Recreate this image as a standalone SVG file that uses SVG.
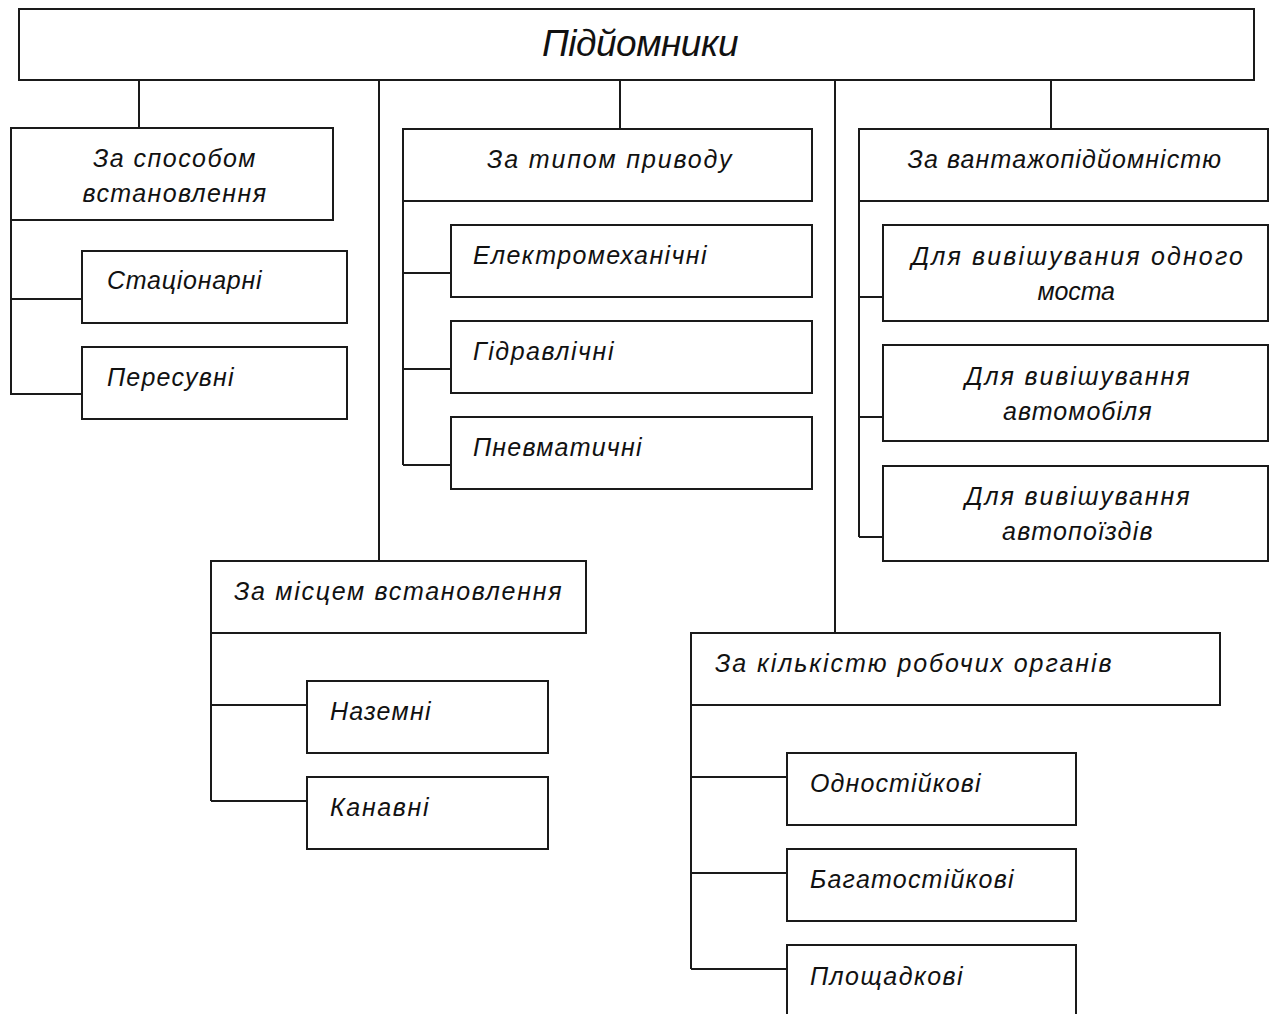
<svg xmlns="http://www.w3.org/2000/svg" width="1273" height="1014" viewBox="0 0 1273 1014">
<style>
.box{fill:#fff;stroke:#1a1a1a;stroke-width:2}
.ln{fill:none;stroke:#1a1a1a;stroke-width:2}
text{font-family:"Liberation Sans","DejaVu Sans",sans-serif;font-style:italic;font-size:25px;fill:#111;letter-spacing:1.5px}
.c{text-anchor:middle}
.t{font-size:37px}
</style>
<rect width="1273" height="1014" fill="#fff"/>
<g id="connectors">
<path class="ln" d="M139 80V128M379 80V561M620 80V129M835 80V633M1051 80V129"/>
<path class="ln" d="M11 220V394M11 299H82M10 394H82"/>
<path class="ln" d="M403 201V465M403 273H451M403 369H451M403 465H451"/>
<path class="ln" d="M859 201V537M859 297H883M859 417H883M859 537H883"/>
<path class="ln" d="M211 633V801M211 705H307M211 801H307"/>
<path class="ln" d="M691 705V969M691 777H787M691 873H787M691 969H787"/>
</g>
<g id="root"><rect class="box" x="19" y="9" width="1235" height="71"/><text class="c t" x="641" y="56" textLength="198">Підйомники</text></g>
<g id="sposib"><rect class="box" x="11" y="128" width="322" height="92"/><text class="c" x="175" y="167" textLength="164">За способом</text><text class="c" x="175" y="202" textLength="185">встановлення</text></g>
<g id="stac"><rect class="box" x="82" y="251" width="265" height="72"/><text x="107" y="289" textLength="156">Стаціонарні</text></g>
<g id="peres"><rect class="box" x="82" y="347" width="265" height="72"/><text x="107" y="386" textLength="128">Пересувні</text></g>
<g id="pryvid"><rect class="box" x="403" y="129" width="409" height="72"/><text class="c" x="610" y="168" textLength="246">За типом приводу</text></g>
<g id="elektro"><rect class="box" x="451" y="225" width="361" height="72"/><text x="473" y="264" textLength="235">Електромеханічні</text></g>
<g id="gidro"><rect class="box" x="451" y="321" width="361" height="72"/><text x="473" y="360" textLength="142">Гідравлічні</text></g>
<g id="pnevmo"><rect class="box" x="451" y="417" width="361" height="72"/><text x="473" y="456" textLength="170">Пневматичні</text></g>
<g id="vantazh"><rect class="box" x="859" y="129" width="409" height="72"/><text class="c" x="1065" y="168" textLength="315">За вантажопідйомністю</text></g>
<g id="mist"><rect class="box" x="883" y="225" width="385" height="96"/><text class="c" x="1078" y="265" textLength="333">Для вивішувания одного</text><text class="c" x="1077" y="300" textLength="79">моста</text></g>
<g id="avto"><rect class="box" x="883" y="345" width="385" height="96"/><text class="c" x="1078" y="385" textLength="226">Для вивішування</text><text class="c" x="1078" y="420" textLength="150">автомобіля</text></g>
<g id="poizd"><rect class="box" x="883" y="466" width="385" height="95"/><text class="c" x="1078" y="505" textLength="226">Для вивішування</text><text class="c" x="1078" y="540" textLength="152">автопоїздів</text></g>
<g id="misce"><rect class="box" x="211" y="561" width="375" height="72"/><text x="234" y="600" textLength="329">За місцем встановлення</text></g>
<g id="nazemni"><rect class="box" x="307" y="681" width="241" height="72"/><text x="330" y="720" textLength="102">Наземні</text></g>
<g id="kanavni"><rect class="box" x="307" y="777" width="241" height="72"/><text x="330" y="816" textLength="100">Канавні</text></g>
<g id="kilkist"><rect class="box" x="691" y="633" width="529" height="72"/><text x="715" y="672" textLength="398">За кількістю робочих органів</text></g>
<g id="odno"><rect class="box" x="787" y="753" width="289" height="72"/><text x="810" y="792" textLength="172">Одностійкові</text></g>
<g id="baga"><rect class="box" x="787" y="849" width="289" height="72"/><text x="810" y="888" textLength="205">Багатостійкові</text></g>
<g id="plosh"><rect class="box" x="787" y="945" width="289" height="80"/><text x="810" y="985" textLength="154">Площадкові</text></g>
</svg>
